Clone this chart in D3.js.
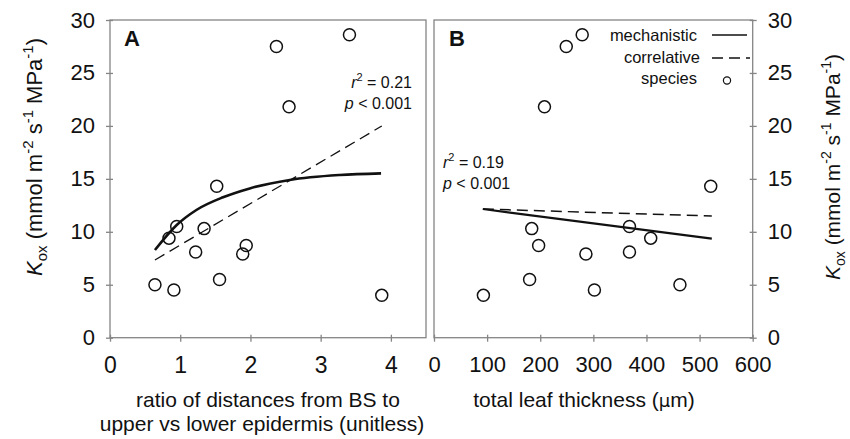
<!DOCTYPE html>
<html>
<head>
<meta charset="utf-8">
<script src="https://cdn.jsdelivr.net/npm/d3@7"></script>
<style>
  body { margin: 0; background: #fff; }
  text { font-family: Arial, "Liberation Sans", sans-serif; fill: #111; }
</style>
</head>
<body>
<script>
let w = 850;
let h = 439;

// species values (same order in both panels)
let kox = [5.0, 4.5, 9.4, 10.5, 8.1, 10.3, 14.3, 5.5, 7.9, 8.7, 27.5, 21.8, 28.6, 4.0];
let ratio = [0.64, 0.91, 0.84, 0.95, 1.22, 1.34, 1.52, 1.56, 1.89, 1.94, 2.37, 2.55, 3.41, 3.87];
let thickness = [463, 302, 408, 368, 368, 184, 521, 180, 286, 197, 249, 208, 279, 93];

// fitted lines
let mechAx = [0.64, 0.95, 1.23, 1.61, 1.99, 2.56, 3.27, 3.86];
let mechAy = [8.28, 10.64, 12.06, 13.26, 14.1, 14.9, 15.36, 15.52];
let corrAx = [0.64, 3.87];
let corrAy = [7.34, 19.99];
let mechBx = [92, 523];
let mechBy = [12.15, 9.35];
let corrBx = [92, 523];
let corrBy = [12.15, 11.49];

let yTicks = [0, 5, 10, 15, 20, 25, 30];
let xTicksA = [0, 1, 2, 3, 4];
let xTicksB = [0, 100, 200, 300, 400, 500, 600];

let plotTop = 20, plotBottom = 337.7;
let gray = '#858585';

let svg = d3.select('body')
  .append('svg')
  .attr('width', w)
  .attr('height', h);

let yScale = d3.scaleLinear().domain([0, 30]).range([plotBottom, plotTop]);
let xA = d3.scaleLinear().domain([0, 4.5]).range([110, 426]);
let xB = d3.scaleLinear().domain([0, 600]).range([434, 752.7]);

function frame(x0, x1) {
  svg.append('rect')
    .attr('x', x0).attr('y', plotTop)
    .attr('width', x1 - x0).attr('height', plotBottom - plotTop)
    .attr('fill', 'none')
    .attr('stroke', gray)
    .attr('stroke-width', 1.3);
}
frame(110, 426);
frame(434, 752.7);

function styleAxis(g, size) {
  g.select('.domain').remove();
  g.selectAll('line').attr('stroke', gray).attr('stroke-width', 1.3);
  g.selectAll('text').attr('font-size', size).attr('fill', '#111')
    .attr('font-family', 'Arial, "Liberation Sans", sans-serif');
}

// y axes
let gyA = svg.append('g')
  .attr('transform', 'translate(110, 0)')
  .call(d3.axisLeft(yScale).tickValues(yTicks).tickSize(4).tickPadding(11));
styleAxis(gyA, '22px');
gyA.selectAll('.tick line').attr('x1', 3);

let gyB = svg.append('g')
  .attr('transform', 'translate(752.7, 0)')
  .call(d3.axisRight(yScale).tickValues(yTicks).tickSize(4).tickPadding(11));
styleAxis(gyB, '22px');
gyB.selectAll('.tick line').attr('x1', -3);

// x axes
let gxA = svg.append('g')
  .attr('transform', 'translate(0, ' + plotBottom + ')')
  .call(d3.axisBottom(xA).tickValues(xTicksA).tickFormat(d3.format('d')).tickSize(4).tickPadding(15));
styleAxis(gxA, '23px');
gxA.selectAll('.tick line').attr('y1', -3);

let gxB = svg.append('g')
  .attr('transform', 'translate(0, ' + plotBottom + ')')
  .call(d3.axisBottom(xB).tickValues(xTicksB).tickFormat(d3.format('d')).tickSize(4).tickPadding(15));
styleAxis(gxB, '22px');
gxB.selectAll('.tick line').attr('y1', -3);

// lines
function drawLine(xs, ys, xScale, dashed, width, curved) {
  let pts = xs.map((x, i) => [x, ys[i]]);
  let line = d3.line()
    .x((d) => { return xScale(d[0]); })
    .y((d) => { return yScale(d[1]); })
    .curve(curved ? d3.curveMonotoneX : d3.curveLinear);
  svg.append('path')
    .attr('d', line(pts))
    .attr('fill', 'none')
    .attr('stroke', '#111')
    .attr('stroke-width', width)
    .attr('stroke-dasharray', dashed ? '11,6' : null);
}
drawLine(corrAx, corrAy, xA, true, 1.3, false);
drawLine(mechAx, mechAy, xA, false, 2.6, true);
drawLine(corrBx, corrBy, xB, true, 1.5, false);
drawLine(mechBx, mechBy, xB, false, 2.2, false);

// points
let species = ratio.map((r, i) => ({ r: r, t: thickness[i], k: kox[i] }));

svg.append('g').selectAll('circle')
  .data(species)
  .enter()
  .append('circle')
  .attr('cx', (d) => { return xA(d.r); })
  .attr('cy', (d) => { return yScale(d.k); })
  .attr('r', 6)
  .attr('fill', 'none')
  .attr('stroke', '#111')
  .attr('stroke-width', 1.5);

svg.append('g').selectAll('circle')
  .data(species)
  .enter()
  .append('circle')
  .attr('cx', (d) => { return xB(d.t); })
  .attr('cy', (d) => { return yScale(d.k); })
  .attr('r', 6)
  .attr('fill', 'none')
  .attr('stroke', '#111')
  .attr('stroke-width', 1.5);

// panel letters
svg.append('text').text('A')
  .attr('x', 124).attr('y', 46)
  .attr('font-size', '22px').attr('font-weight', 'bold');
svg.append('text').text('B')
  .attr('x', 449).attr('y', 46)
  .attr('font-size', '22px').attr('font-weight', 'bold');

// stats annotations
function stats(x, y, anchor, r2) {
  let t1 = svg.append('text')
    .attr('x', x).attr('y', y)
    .attr('font-size', '16px')
    .attr('text-anchor', anchor);
  t1.append('tspan').attr('font-style', 'italic').text('r');
  t1.append('tspan').attr('font-size', '11px').attr('dy', -7).text('2');
  t1.append('tspan').attr('dy', 7).text(' = ' + r2);
  let t2 = svg.append('text')
    .attr('x', x).attr('y', y + 21.5)
    .attr('font-size', '16px')
    .attr('text-anchor', anchor);
  t2.append('tspan').attr('font-style', 'italic').text('p');
  t2.append('tspan').text(' < 0.001');
}
stats(412, 87.5, 'end', '0.21');
stats(443, 167.5, 'start', '0.19');

// legend
let legendRows = ['mechanistic', 'correlative', 'species'];
let legendY = [35, 57, 78];
svg.append('g').selectAll('text')
  .data(legendRows)
  .enter()
  .append('text')
  .text((d) => { return d; })
  .attr('x', (d, i) => { return i === 1 ? 700 : 697; })
  .attr('y', (d, i) => { return legendY[i] + 6; })
  .attr('font-size', '16.5px')
  .attr('text-anchor', 'end');
svg.append('line')
  .attr('x1', 712).attr('x2', 747).attr('y1', 35).attr('y2', 35)
  .attr('stroke', '#111').attr('stroke-width', 1.5);
svg.append('line')
  .attr('x1', 712).attr('x2', 750).attr('y1', 58).attr('y2', 58)
  .attr('stroke', '#111').attr('stroke-width', 1.3)
  .attr('stroke-dasharray', '11,6');
svg.append('circle')
  .attr('cx', 727).attr('cy', 80.5).attr('r', 3.6)
  .attr('fill', 'none').attr('stroke', '#111').attr('stroke-width', 1.2);

// axis titles
function yTitle(x, y, size) {
  let t = svg.append('text')
    .attr('transform', 'translate(' + x + ',' + y + ') rotate(-90)')
    .attr('text-anchor', 'middle')
    .attr('font-size', size + 'px');
  let small = Math.round(size * 0.68) + 'px';
  let up = Math.round(size * 0.42);
  t.append('tspan').attr('font-style', 'italic').text('K');
  t.append('tspan').attr('font-size', small).attr('dy', 5).text('ox');
  t.append('tspan').attr('dy', -5).text(' (mmol m');
  t.append('tspan').attr('font-size', small).attr('dy', -up).text('-2');
  t.append('tspan').attr('dy', up).text(' s');
  t.append('tspan').attr('font-size', small).attr('dy', -up).text('-1');
  t.append('tspan').attr('dy', up).text(' MPa');
  t.append('tspan').attr('font-size', small).attr('dy', -up).text('-1');
  t.append('tspan').attr('dy', up).text(')');
}
yTitle(42, 157, 22);
yTitle(840, 167, 21);

svg.append('text').text('ratio of distances from BS to')
  .attr('x', 268).attr('y', 407)
  .attr('font-size', '21px').attr('text-anchor', 'middle');
svg.append('text').text('upper vs lower epidermis (unitless)')
  .attr('x', 262).attr('y', 431)
  .attr('font-size', '21px').attr('text-anchor', 'middle');

let tl = svg.append('text')
  .attr('x', 584).attr('y', 407)
  .attr('font-size', '21px').attr('text-anchor', 'middle');
tl.append('tspan').text('total leaf thickness (');
tl.append('tspan').attr('font-family', '"DejaVu Sans", sans-serif').attr('font-size', '18px').text('\u03bc');
tl.append('tspan').text('m)');
</script>
</body>
</html>
